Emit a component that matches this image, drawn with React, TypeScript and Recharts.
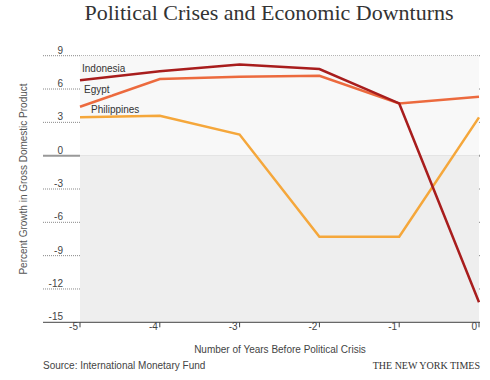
import React from "react";
import {
  LineChart,
  Line,
  XAxis,
  YAxis,
  CartesianGrid,
  ReferenceArea,
  LabelList,
} from "recharts";

const years = [-5, -4, -3, -2, -1, 0];
const indonesia = [6.8, 7.6, 8.2, 7.8, 4.7, -13.2];
const egypt = [4.4, 6.9, 7.1, 7.2, 4.7, 5.3];
const philippines = [3.45, 3.6, 1.9, -7.3, -7.3, 3.45];
const yTicks = [-15, -12, -9, -6, -3, 0, 3, 6, 9];
const gridValues = [-12, -9, -6, -3, 3, 6, 9];
const seriesNames = ["Indonesia", "Egypt", "Philippines"];

const data = years.map((y, i) => ({
  year: y,
  Indonesia: indonesia[i],
  Egypt: egypt[i],
  Philippines: philippines[i],
}));

const SANS = "'Liberation Sans', Arial, Helvetica, sans-serif";
const SERIF = "'Liberation Serif', 'Times New Roman', serif";

const labelOffsets: Record<string, { dx: number; dy: number; w: number }> = {
  Indonesia: { dx: 2, dy: -12, w: 43 },
  Egypt: { dx: 4, dy: -17, w: 27 },
  Philippines: { dx: 11, dy: -7.5, w: 48 },
};

const makeLabel = (name: string) => (props: any) => {
  const { x, y, index } = props;
  if (index !== 0) return null;
  const o = labelOffsets[name];
  const cx = x + o.dx;
  const cy = y + o.dy;
  return (
    <g>
      <rect x={cx - 1} y={cy - 4.5} width={o.w + 2} height={9} fill="#f8f8f8" />
      <text
        x={cx}
        y={cy}
        dy={3.5}
        fontSize={10}
        fontFamily={SANS}
        fill="#333"
        textAnchor="start"
      >
        {name}
      </text>
    </g>
  );
};

const XTick = (props: any) => {
  const { x, y, payload } = props;
  return (
    <text
      x={x - 2}
      y={y}
      dy={2.5}
      fontSize={10}
      fontFamily={SANS}
      fill="#444"
      textAnchor="end"
    >
      {payload.value}
    </text>
  );
};

const YTick = (props: any) => {
  const { y, payload } = props;
  return (
    <text
      x={63}
      y={y}
      dy={-2}
      fontSize={10}
      fontFamily={SANS}
      fill="#444"
      textAnchor="end"
    >
      {payload.value}
    </text>
  );
};

export default function App() {
  return (
    <div style={{ position: "absolute", left: 0, top: 0, width: 490, height: 380, background: "#fff" }}>
      <svg
        width={490}
        height={380}
        style={{ position: "absolute", left: 0, top: 0 }}
      >
        <text
          x={269}
          y={20}
          textAnchor="middle"
          fontSize={22}
          fontFamily={SERIF}
          fill="#333"
        >
          Political Crises and Economic Downturns
        </text>
        <text
          x={23}
          y={179}
          textAnchor="middle"
          fontSize={10}
          fontFamily={SANS}
          fill="#555"
          transform="rotate(-90 23 179)"
          dy={3.5}
        >
          Percent Growth in Gross Domestic Product
        </text>
        <text
          x={280}
          y={353}
          textAnchor="middle"
          fontSize={10}
          fontFamily={SANS}
          fill="#444"
        >
          Number of Years Before Political Crisis
        </text>
        <text x={43} y={369} fontSize={10} fontFamily={SANS} fill="#444">
          Source: International Monetary Fund
        </text>
        <text
          x={480}
          y={369}
          textAnchor="end"
          fontSize={10}
          fontFamily={SERIF}
          fill="#333"
        >
          THE NEW YORK TIMES
        </text>
      </svg>
      <div style={{ position: "absolute", left: 0, top: 0 }}>
        <LineChart
          width={490}
          height={380}
          data={data}
          margin={{ top: 55.7, right: 10, bottom: 0, left: 0 }}
        >
          <ReferenceArea
            x1={-5}
            x2={0}
            y1={0}
            y2={9}
            fill="#f8f8f8"
            fillOpacity={1}
            stroke="none"
          />
          <ReferenceArea
            x1={-5}
            x2={0}
            y1={-15}
            y2={0}
            fill="#eeeeee"
            fillOpacity={1}
            stroke="none"
          />
          <CartesianGrid
            vertical={false}
            horizontalValues={gridValues}
            stroke="#888"
            strokeDasharray="1 1"
          />
          <CartesianGrid
            vertical={false}
            horizontalValues={[0]}
            stroke="#999"
            strokeWidth={2}
          />
          <XAxis
            dataKey="year"
            type="number"
            domain={[-5, 0]}
            ticks={years}
            padding={{ left: 37, right: 1 }}
            axisLine={{ stroke: "#444" }}
            tickLine={{ stroke: "#444" }}
            tickSize={5}
            tickMargin={0}
            tick={<XTick />}
            height={57.7}
          />
          <YAxis
            type="number"
            domain={[-15, 9]}
            ticks={yTicks}
            width={43}
            axisLine={false}
            tickLine={false}
            tick={<YTick />}
            interval={0}
          />
          <Line
            dataKey="Philippines"
            stroke="#f5a73b"
            strokeWidth={2.5}
            dot={false}
            isAnimationActive={false}
            type="linear"
          >
            <LabelList dataKey="Philippines" content={makeLabel(seriesNames[2])} />
          </Line>
          <Line
            dataKey="Egypt"
            stroke="#ec6a3e"
            strokeWidth={2.5}
            dot={false}
            isAnimationActive={false}
            type="linear"
          >
            <LabelList dataKey="Egypt" content={makeLabel(seriesNames[1])} />
          </Line>
          <Line
            dataKey="Indonesia"
            stroke="#a81d1d"
            strokeWidth={2.5}
            dot={false}
            isAnimationActive={false}
            type="linear"
          >
            <LabelList dataKey="Indonesia" content={makeLabel(seriesNames[0])} />
          </Line>
        </LineChart>
      </div>
    </div>
  );
}
